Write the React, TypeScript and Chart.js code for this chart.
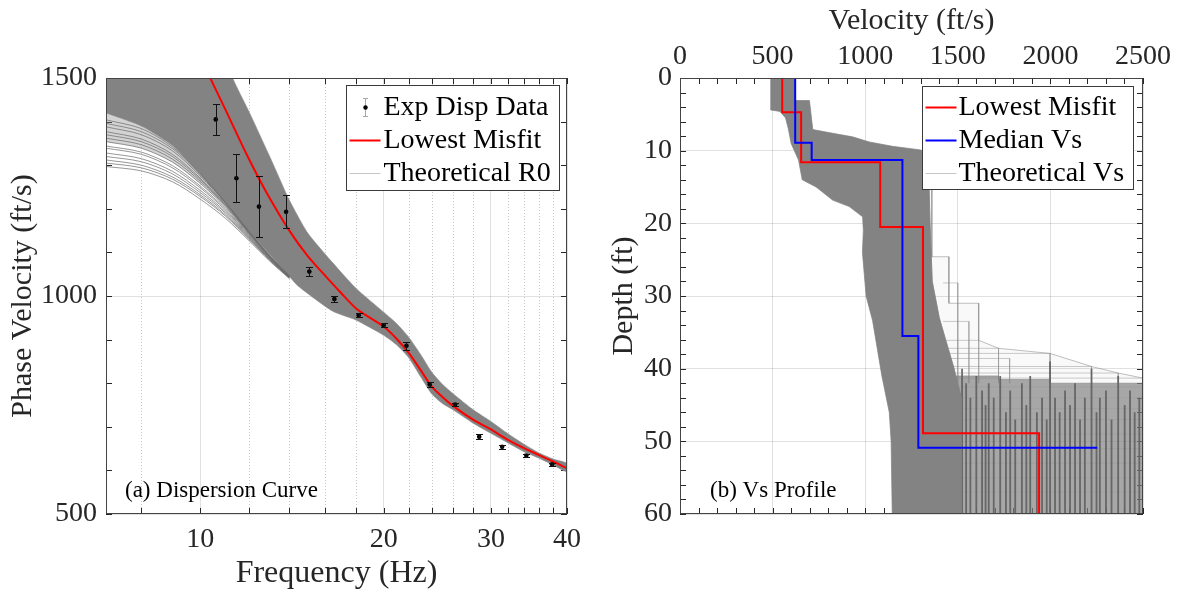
import React, { useEffect, useRef } from 'react';
import { Chart, registerables } from 'chart.js';

Chart.register(...registerables);

const SERIF = '"Liberation Serif", "Times New Roman", Times, serif';
const INK = '#262626';
const GRID = 'rgba(38,38,38,0.14)';
const GRAY = '#838383';

// ---------------- Panel (a): dispersion curve ----------------
const freqTicks = [10, 20, 30, 40];
const freqMinorTicks = [8, 12, 14, 16, 18, 22, 24, 26, 28, 32, 34, 36, 38];
const phaseVelTicks = [500, 1000, 1500];
const phaseVelMinorTicks = [600, 700, 800, 900, 1100, 1200, 1300, 1400];

const expFreq = [10.6, 11.46, 12.48, 13.83, 15.1, 16.6, 18.2, 20.0, 21.8, 23.8, 26.2, 28.7, 31.3, 34.3, 37.8];
const expVel = [1405, 1270, 1205, 1193, 1056, 993, 956, 933, 886, 797, 751, 677, 654, 634, 614];
const expErr = [36, 55, 70, 38, 10, 7, 5, 5, 9, 5, 4, 6, 4, 4, 3];

const misfitFreq = [10.38, 11, 12, 13, 14, 15, 16, 17, 18, 19, 20, 21, 22, 23, 24, 25, 26, 28, 30, 32, 34, 36, 38, 40];
const misfitVel = [1500, 1427, 1316, 1224, 1150, 1092, 1048, 1008, 972, 950, 930, 902, 869, 830, 792, 768, 748, 717, 694, 670, 651, 635, 620, 605];

const bandTopFreq = [7, 10, 11.3, 12, 13, 14, 15, 16.5, 18, 20, 21, 22, 23, 24, 25, 26, 28, 30, 32, 34, 36, 38, 40];
const bandTopVel = [1700, 1700, 1500, 1425, 1320, 1220, 1145, 1076, 1018, 963, 937, 905, 866, 825, 797, 776, 740, 712, 684, 660, 640, 626, 616];
const bandBotFreq = [7, 8, 9, 10, 11, 12, 13, 14, 14.5, 16.5, 18, 20, 21, 22, 23, 24, 25, 26, 28, 30, 32, 34, 36, 38, 40];
const bandBotVel = [1420, 1390, 1345, 1280, 1215, 1150, 1095, 1045, 1022, 965, 945, 910, 888, 858, 815, 775, 753, 739, 709, 685, 663, 643, 628, 612, 597];

const fanFreq = [7, 8, 9, 10, 11, 12, 13, 14];
const fanCurves = [
  [1297, 1287, 1262, 1222, 1178, 1128, 1080, 1040],
  [1305, 1294, 1268, 1228, 1183, 1131, 1082, 1041],
  [1312, 1300, 1273, 1232, 1186, 1133, 1083, 1042],
  [1320, 1308, 1280, 1237, 1190, 1135, 1084, 1042],
  [1328, 1315, 1286, 1242, 1193, 1137, 1085, 1043],
  [1339, 1325, 1294, 1248, 1197, 1139, 1086, 1043],
  [1344, 1330, 1299, 1252, 1200, 1141, 1087, 1044],
  [1354, 1339, 1307, 1258, 1204, 1143, 1088, 1044],
  [1362, 1347, 1314, 1263, 1207, 1145, 1089, 1045],
  [1370, 1354, 1320, 1267, 1209, 1146, 1090, 1045],
  [1377, 1360, 1325, 1270, 1211, 1147, 1090, 1045],
  [1388, 1370, 1333, 1275, 1213, 1148, 1091, 1045],
  [1396, 1377, 1338, 1278, 1214, 1149, 1092, 1046],
  [1404, 1384, 1342, 1280, 1215, 1150, 1093, 1046],
];

// ---------------- Panel (b): Vs profile ----------------
const vsTicks = [0, 500, 1000, 1500, 2000, 2500];
const vsMinorTicks = [100, 200, 300, 400, 600, 700, 800, 900, 1100, 1200, 1300, 1400, 1600, 1700, 1800, 1900, 2100, 2200, 2300, 2400];
const depthTicks = [0, 10, 20, 30, 40, 50, 60];
const depthMinorTicks = [2, 4, 6, 8, 12, 14, 16, 18, 22, 24, 26, 28, 32, 34, 36, 38, 42, 44, 46, 48, 52, 54, 56, 58];

const redVs = [552, 654, 1081, 1312, 1939];
const redTop = [0, 4.7, 11.6, 20.5, 48.9];
const blueVs = [622, 711, 1201, 1287, 2253];
const blueTop = [0, 8.9, 11.3, 35.5, 50.9];

const denseV = [490, 618, 618, 699, 717, 824, 932, 1022, 1147, 1300, 1340, 1350, 1362, 1400, 1434, 1480, 1520, 1520, 1146, 1140, 1130, 1090, 1040, 1005, 985, 990, 986, 914, 824, 735, 660, 640, 600, 585, 570, 540, 490];
const denseD = [0, 0, 3.1, 3.1, 7.1, 7.6, 8.1, 8.8, 9.4, 9.9, 10.5, 20, 28, 33, 36, 40, 44, 60, 60, 50, 46, 41, 33.4, 30, 24, 21, 19.1, 17.7, 16.8, 15, 14, 11.3, 9, 7, 5.5, 4.6, 4.4];

const sparseV = [1340, 1360, 1360, 1452, 1452, 1613, 1613, 1720, 1998, 2222, 2366, 2500, 2500, 1520, 1480, 1434, 1400, 1362, 1350];
const sparseD = [10.5, 10.5, 24.6, 24.6, 31, 31, 36.1, 37.2, 37.9, 39.7, 40.6, 41.3, 60, 60, 40, 36, 33, 28, 20];

const outlineD = [28.2, 33.5, 36.1, 37.2, 37.9, 38.6, 39.7, 40.6, 41.3];
const outlineEndV = [1500, 1560, 1613, 1720, 1998, 1780, 2222, 2366, 2500];

const stripeV = [1480, 1720, 1720, 1998, 1998, 2500, 2500, 1480];
const stripeD = [41, 41, 41.5, 41.5, 42, 42, 60, 60];

const streakV = [1470, 1500, 1523, 1545, 1568, 1600, 1631, 1650, 1667, 1694, 1729, 1760, 1783, 1810, 1846, 1870, 1891, 1927, 1955, 1980, 1998, 2025, 2050, 2079, 2106, 2133, 2160, 2186, 2222, 2249, 2267, 2300, 2330, 2366, 2401, 2430, 2455, 2480];
const streakTop = [41, 43, 40, 42, 44, 41, 43, 45, 42, 44, 41, 46, 43, 47, 42, 45, 41, 46, 44, 47, 39, 44, 46, 43, 45, 42, 47, 44, 40, 46, 44, 43, 47, 41, 45, 43, 46, 44];

const layerDepth = [42.5, 44, 45.5, 47, 49, 51, 53, 55, 57];

// ---------------- helpers ----------------
const pts = (xs: number[], ys: number[]) => xs.map((x, i) => ({ x, y: ys[i] }));
const closed = (xs: number[], ys: number[]) => {
  const p = pts(xs, ys);
  p.push({ ...p[0] });
  return p;
};
const bandPolygon = () => [...pts(bandTopFreq, bandTopVel), ...pts(bandBotFreq, bandBotVel).reverse()];
const fanPolygon = () => [
  ...pts(fanFreq, fanCurves[7]),
  ...pts(bandBotFreq.slice(0, fanFreq.length), bandBotVel.slice(0, fanFreq.length)).reverse(),
];
const stepPts = (vs: number[], tops: number[], bottom: number) => {
  const out: { x: number; y: number }[] = [];
  vs.forEach((v, i) => {
    const d1 = i + 1 < tops.length ? tops[i + 1] : bottom;
    out.push({ x: v, y: tops[i] }, { x: v, y: d1 });
  });
  return out;
};
const verticals = (vs: number[], tops: number[], bottom: number) =>
  vs.flatMap((v, i) => [
    { x: v, y: tops[i] },
    { x: v, y: bottom },
    { x: v, y: null as any },
  ]);
const horizontals = (ds: number[], x0: number, x1: number) =>
  ds.flatMap((d) => [
    { x: x0, y: d },
    { x: x1, y: d },
    { x: x1, y: null as any },
  ]);
const outlines = (ds: number[], ends: number[], x0: number, bottom: number) =>
  ds.flatMap((d, i) => [
    { x: x0, y: d },
    { x: ends[i], y: d },
    { x: ends[i], y: bottom },
    { x: ends[i], y: null as any },
  ]);

function framePlugin(cfg: any) {
  return {
    id: 'frame',
    beforeDatasetsDraw(chart: any) {
      const { ctx, chartArea: a, scales } = chart;
      const xs = scales.x;
      const ys = scales.y;
      ctx.save();
      ctx.lineWidth = 1;
      if (cfg.xDotted) {
        ctx.strokeStyle = 'rgba(38,38,38,0.25)';
        ctx.setLineDash([1, 2]);
        for (const v of cfg.xDotted) {
          const p = Math.round(xs.getPixelForValue(v)) + 0.5;
          ctx.beginPath();
          ctx.moveTo(p, a.top);
          ctx.lineTo(p, a.bottom);
          ctx.stroke();
        }
        ctx.setLineDash([]);
      }
      ctx.strokeStyle = INK;
      const L = cfg.tickLen;
      for (const v of cfg.xTicks) {
        const p = Math.round(xs.getPixelForValue(v)) + 0.5;
        ctx.beginPath();
        ctx.moveTo(p, a.bottom);
        ctx.lineTo(p, a.bottom - L);
        ctx.moveTo(p, a.top);
        ctx.lineTo(p, a.top + L);
        ctx.stroke();
      }
      for (const v of cfg.yTicks) {
        const p = Math.round(ys.getPixelForValue(v)) + 0.5;
        ctx.beginPath();
        ctx.moveTo(a.left, p);
        ctx.lineTo(a.left + L, p);
        ctx.moveTo(a.right, p);
        ctx.lineTo(a.right - L, p);
        ctx.stroke();
      }
      ctx.restore();
    },
    afterDatasetsDraw(chart: any) {
      const { ctx, chartArea: a } = chart;
      ctx.save();
      ctx.strokeStyle = '#444';
      ctx.lineWidth = 1;
      ctx.strokeRect(Math.round(a.left) + 0.5, Math.round(a.top) + 0.5, Math.round(a.width) - 1, Math.round(a.height) - 1);
      ctx.restore();
    },
  };
}

function legendPlugin(items: any[], box: any) {
  return {
    id: 'boxLegend',
    afterDraw(chart: any) {
      const { ctx, chartArea: a } = chart;
      const x0 = Math.round(a.right - box.fromRight) + 0.5;
      const y0 = Math.round(a.top + box.fromTop) + 0.5;
      ctx.save();
      ctx.fillStyle = '#fff';
      ctx.fillRect(x0, y0, box.w, box.h);
      ctx.strokeStyle = '#3a3a3a';
      ctx.lineWidth = 1;
      ctx.strokeRect(x0, y0, box.w, box.h);
      ctx.font = `${box.fontSize}px ${SERIF}`;
      ctx.textBaseline = 'middle';
      ctx.textAlign = 'left';
      items.forEach((it, i) => {
        const cy = Math.round(y0 + box.row0 + i * box.rowGap) + 0.5;
        const sx0 = x0 + box.sampleX0;
        const sx1 = x0 + box.sampleX1;
        if (it.kind === 'errorbar') {
          const cx = Math.round((sx0 + sx1) / 2) + 0.5;
          ctx.strokeStyle = it.color;
          ctx.lineWidth = 1;
          ctx.beginPath();
          ctx.moveTo(cx, cy - 9);
          ctx.lineTo(cx, cy + 9);
          ctx.moveTo(cx - 2.5, cy - 9);
          ctx.lineTo(cx + 2.5, cy - 9);
          ctx.moveTo(cx - 2.5, cy + 9);
          ctx.lineTo(cx + 2.5, cy + 9);
          ctx.stroke();
          ctx.fillStyle = '#000';
          ctx.beginPath();
          ctx.arc(cx, cy, 2.2, 0, Math.PI * 2);
          ctx.fill();
        } else {
          ctx.strokeStyle = it.color;
          ctx.lineWidth = it.width;
          ctx.beginPath();
          ctx.moveTo(sx0, cy);
          ctx.lineTo(sx1, cy);
          ctx.stroke();
        }
        ctx.fillStyle = '#000';
        ctx.fillText(it.label, x0 + box.textX, cy);
      });
      ctx.restore();
    },
  };
}

function panelLabelPlugin(text: string, dx: number, dy: number) {
  return {
    id: 'panelLabel',
    afterDraw(chart: any) {
      const { ctx, chartArea: a } = chart;
      ctx.save();
      ctx.font = `23px ${SERIF}`;
      ctx.fillStyle = '#000';
      ctx.textBaseline = 'alphabetic';
      ctx.textAlign = 'left';
      ctx.fillText(text, a.left + dx, a.bottom - dy);
      ctx.restore();
    },
  };
}

const errorBarPlugin = {
  id: 'errbars',
  afterDatasetsDraw(chart: any) {
    const { ctx, scales } = chart;
    const x = scales.x;
    const y = scales.y;
    ctx.save();
    ctx.strokeStyle = '#111';
    ctx.lineWidth = 1;
    expFreq.forEach((f, i) => {
      const px = Math.round(x.getPixelForValue(f)) + 0.5;
      const y1 = Math.round(y.getPixelForValue(expVel[i] + expErr[i])) + 0.5;
      const y2 = Math.round(y.getPixelForValue(expVel[i] - expErr[i])) + 0.5;
      ctx.beginPath();
      ctx.moveTo(px, y1);
      ctx.lineTo(px, y2);
      ctx.moveTo(px - 3.5, y1);
      ctx.lineTo(px + 3.5, y1);
      ctx.moveTo(px - 3.5, y2);
      ctx.lineTo(px + 3.5, y2);
      ctx.stroke();
    });
    ctx.restore();
  },
};

const tickFont = { family: SERIF, size: 28 };
const titleFont = { family: SERIF, size: 30 };

function makeDispersion(canvas: HTMLCanvasElement) {
  const datasets: any[] = [
    {
      data: bandPolygon(),
      fill: 'shape',
      backgroundColor: GRAY,
      borderColor: 'rgba(140,140,140,0.6)',
      borderWidth: 1,
      tension: 0.2,
      order: 10,
    },
    {
      data: fanPolygon(),
      fill: 'shape',
      backgroundColor: 'rgba(128,128,128,0.35)',
      borderWidth: 0,
      tension: 0.3,
      order: 11,
    },
    ...fanCurves.map((c) => ({
      data: pts(fanFreq, c),
      borderColor: 'rgba(105,105,105,0.7)',
      borderWidth: 1,
      tension: 0.3,
      fill: false,
      order: 9,
    })),
    {
      data: pts(misfitFreq, misfitVel),
      borderColor: '#ff0000',
      borderWidth: 2,
      cubicInterpolationMode: 'monotone',
      fill: false,
      order: 2,
    },
    {
      data: pts(expFreq, expVel),
      showLine: false,
      pointRadius: 2.3,
      pointBackgroundColor: '#000',
      pointBorderWidth: 0,
      order: 1,
    },
  ];
  return new Chart(canvas, {
    type: 'line',
    data: { datasets },
    options: {
      responsive: false,
      animation: false,
      devicePixelRatio: 1,
      events: [],
      layout: { padding: { top: 78, right: 33, bottom: 0, left: 0 } },
      elements: { point: { radius: 0 }, line: { borderJoinStyle: 'round' } },
      plugins: { legend: { display: false }, tooltip: { enabled: false } },
      scales: {
        x: {
          type: 'logarithmic',
          position: 'bottom',
          min: 7,
          max: 40,
          afterBuildTicks: (s: any) => {
            s.ticks = freqTicks.map((v) => ({ value: v }));
          },
          afterFit: (s: any) => {
            s.height = 79;
          },
          ticks: {
            callback: (v: any) => String(v),
            autoSkip: false,
            maxRotation: 0,
            padding: 9,
            color: INK,
            font: tickFont,
          },
          grid: { color: GRID, drawTicks: false, tickLength: 0 },
          border: { display: false },
          title: { display: true, text: 'Frequency (Hz)', color: INK, font: { family: SERIF, size: 32 }, padding: { top: 0, bottom: 0 } },
        },
        y: {
          type: 'linear',
          min: 500,
          max: 1500,
          afterBuildTicks: (s: any) => {
            s.ticks = phaseVelTicks.map((v) => ({ value: v }));
          },
          afterFit: (s: any) => {
            s.width = 106;
          },
          ticks: { padding: 9, color: INK, font: tickFont, callback: (v: any) => String(v) },
          grid: { color: GRID, drawTicks: false, tickLength: 0 },
          border: { display: false },
          title: { display: true, text: 'Phase Velocity (ft/s)', color: INK, font: titleFont, padding: { top: 5, bottom: 0 } },
        },
      },
    } as any,
    plugins: [
      framePlugin({
        xTicks: [...freqTicks, ...freqMinorTicks],
        yTicks: [...phaseVelTicks, ...phaseVelMinorTicks],
        xDotted: freqMinorTicks,
        tickLen: 6,
      }),
      errorBarPlugin,
      panelLabelPlugin('(a) Dispersion Curve', 19, 17),
      legendPlugin(
        [
          { kind: 'errorbar', color: '#a8a8a8', width: 1, label: 'Exp Disp Data' },
          { kind: 'line', color: '#ff0000', width: 2, label: 'Lowest Misfit' },
          { kind: 'line', color: '#c6c6c6', width: 1, label: 'Theoretical R0' },
        ],
        { fromRight: 221, fromTop: 7, w: 213, h: 105, row0: 21, rowGap: 33, sampleX0: 3, sampleX1: 34, textX: 37, fontSize: 28 }
      ),
    ],
  });
}

function makeProfile(canvas: HTMLCanvasElement) {
  const datasets: any[] = [
    {
      data: closed(sparseV, sparseD),
      fill: 'shape',
      backgroundColor: 'rgba(128,128,128,0.05)',
      borderColor: 'rgba(128,128,128,0.5)',
      borderWidth: 1,
      tension: 0,
      order: 21,
    },
    {
      data: outlines(outlineD, outlineEndV, 1420, 42),
      borderColor: 'rgba(140,140,140,0.45)',
      borderWidth: 1,
      fill: false,
      spanGaps: false,
      tension: 0,
      order: 20,
    },
    {
      data: closed(stripeV, stripeD),
      fill: 'shape',
      backgroundColor: 'rgba(128,128,128,0.68)',
      borderColor: 'rgba(128,128,128,0.6)',
      borderWidth: 1,
      tension: 0,
      order: 19,
    },
    {
      data: horizontals(layerDepth, 1480, 2500),
      borderColor: 'rgba(150,150,150,0.45)',
      borderWidth: 1,
      fill: false,
      spanGaps: false,
      tension: 0,
      order: 18,
    },
    {
      data: verticals(streakV, streakTop, 60),
      borderColor: 'rgba(95,95,95,0.9)',
      borderWidth: 1.8,
      fill: false,
      spanGaps: false,
      tension: 0,
      order: 17,
    },
    {
      data: closed(denseV, denseD),
      fill: 'shape',
      backgroundColor: GRAY,
      borderColor: 'rgba(128,128,128,0.7)',
      borderWidth: 1,
      tension: 0,
      order: 15,
    },
    {
      data: stepPts(redVs, redTop, 60),
      borderColor: '#ff0000',
      borderWidth: 2,
      fill: false,
      tension: 0,
      borderJoinStyle: 'miter',
      order: 2,
    },
    {
      data: stepPts(blueVs, blueTop, 50.9),
      borderColor: '#0000ff',
      borderWidth: 2,
      fill: false,
      tension: 0,
      borderJoinStyle: 'miter',
      order: 1,
    },
  ];
  return new Chart(canvas, {
    type: 'line',
    data: { datasets },
    options: {
      responsive: false,
      animation: false,
      devicePixelRatio: 1,
      events: [],
      layout: { padding: { top: 0, right: 36, bottom: 79, left: 0 } },
      elements: { point: { radius: 0 } },
      plugins: { legend: { display: false }, tooltip: { enabled: false } },
      scales: {
        x: {
          type: 'linear',
          position: 'top',
          min: 0,
          max: 2500,
          afterBuildTicks: (s: any) => {
            s.ticks = vsTicks.map((v) => ({ value: v }));
          },
          afterFit: (s: any) => {
            s.height = 78;
          },
          ticks: { padding: 5, color: INK, font: tickFont, maxRotation: 0, autoSkip: false, callback: (v: any) => String(v) },
          grid: { color: GRID, drawTicks: false, tickLength: 0 },
          border: { display: false },
          title: { display: true, text: 'Velocity (ft/s)', color: INK, font: titleFont, padding: { top: 3, bottom: 0 } },
        },
        y: {
          type: 'linear',
          reverse: true,
          min: 0,
          max: 60,
          afterBuildTicks: (s: any) => {
            s.ticks = depthTicks.map((v) => ({ value: v }));
          },
          afterFit: (s: any) => {
            s.width = 90;
          },
          ticks: { padding: 8, color: INK, font: tickFont, callback: (v: any) => String(v) },
          grid: { color: GRID, drawTicks: false, tickLength: 0 },
          border: { display: false },
          title: { display: true, text: 'Depth (ft)', color: INK, font: titleFont, padding: { top: 16, bottom: 0 } },
        },
      },
    } as any,
    plugins: [
      framePlugin({
        xTicks: [...vsTicks, ...vsMinorTicks],
        yTicks: [...depthTicks, ...depthMinorTicks],
        tickLen: 6,
      }),
      panelLabelPlugin('(b) Vs Profile', 30, 17),
      legendPlugin(
        [
          { kind: 'line', color: '#ff0000', width: 2, label: 'Lowest Misfit' },
          { kind: 'line', color: '#0000ff', width: 2, label: 'Median Vs' },
          { kind: 'line', color: '#c6c6c6', width: 1, label: 'Theoretical Vs' },
        ],
        { fromRight: 221, fromTop: 8, w: 211, h: 103, row0: 20, rowGap: 33, sampleX0: 3, sampleX1: 34, textX: 36, fontSize: 28 }
      ),
    ],
  });
}

export default function App() {
  const leftRef = useRef<HTMLCanvasElement | null>(null);
  const rightRef = useRef<HTMLCanvasElement | null>(null);

  useEffect(() => {
    if (!leftRef.current || !rightRef.current) return;
    const a = makeDispersion(leftRef.current);
    const b = makeProfile(rightRef.current);
    return () => {
      a.destroy();
      b.destroy();
    };
  }, []);

  return (
    <div style={{ position: 'absolute', left: 0, top: 0, width: 1179, height: 593, background: '#fff', overflow: 'hidden' }}>
      <canvas ref={leftRef} width={600} height={593} style={{ position: 'absolute', left: 0, top: 0 }} />
      <canvas ref={rightRef} width={589} height={593} style={{ position: 'absolute', left: 590, top: 0 }} />
    </div>
  );
}
